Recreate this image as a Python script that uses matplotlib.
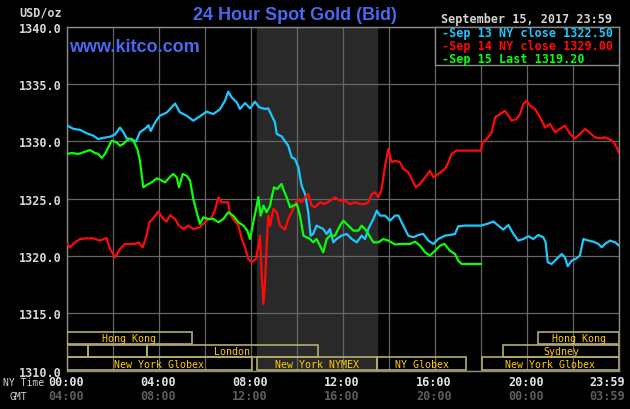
import matplotlib.pyplot as plt
from matplotlib.patches import Rectangle
import matplotlib.transforms as mtransforms

plt.rcParams['font.family'] = 'DejaVu Sans Mono'

# --- data (NY time in hours, price USD/oz) ---
sep13_h = [0.0, 0.29, 0.57, 0.86, 1.14, 1.36, 1.58, 1.87, 2.09, 2.30, 2.45, 2.59, 2.81, 3.0, 3.17, 3.39,
           3.54, 3.64, 3.83, 4.04, 4.33, 4.48, 4.70, 4.91, 5.2, 5.49, 5.78, 6.07, 6.36, 6.65, 6.87, 7.01,
           7.16, 7.38, 7.52, 7.74, 7.96, 8.17, 8.36, 8.61, 8.75, 8.9, 9.04, 9.12, 9.26, 9.33, 9.48, 9.62,
           9.77, 9.91, 10.06, 10.2, 10.35, 10.49, 10.59, 10.7, 10.85, 11.0, 11.14, 11.29, 11.43, 11.58,
           11.72, 11.94, 12.16, 12.38, 12.6, 12.81, 12.96, 13.1, 13.32, 13.47, 13.61, 13.83, 14.04, 14.26,
           14.41, 14.62, 14.84, 15.06, 15.27, 15.49, 15.71, 15.93, 16.14, 16.43, 16.65, 16.87, 17.01, 17.30,
           18.0, 18.25, 18.54, 18.75, 18.97, 19.19, 19.41, 19.62, 19.84, 20.06, 20.27, 20.49, 20.71, 20.81,
           20.9, 21.07, 21.29, 21.51, 21.65, 21.77, 21.94, 22.16, 22.3, 22.45, 22.67, 22.88, 23.1, 23.25,
           23.39, 23.61, 23.83, 24.0]
sep13_p = [1331.37, 1331.08, 1331.0, 1330.7, 1330.5, 1330.2, 1330.3, 1330.4, 1330.6, 1331.2, 1330.8,
           1330.26, 1330.2, 1329.97, 1330.8, 1331.1, 1331.4, 1330.9, 1331.66, 1332.24, 1332.5, 1332.82,
           1333.3, 1332.53, 1332.24, 1331.8, 1332.18, 1332.59, 1332.38, 1332.8, 1333.55, 1334.33, 1333.84,
           1333.4, 1332.82, 1333.34, 1332.88, 1333.46, 1332.97, 1332.82, 1332.88, 1332.24, 1331.66, 1330.64,
           1330.5, 1330.44, 1330.0, 1329.62, 1328.6, 1328.46, 1327.73, 1326.13, 1325.4, 1323.8, 1321.77,
           1321.92, 1322.65, 1322.5, 1322.35, 1321.92, 1322.35, 1321.19, 1321.48, 1321.77, 1321.92, 1321.48,
           1321.19, 1321.77, 1321.48, 1322.35, 1323.23, 1323.95, 1323.52, 1323.52, 1323.08, 1323.52, 1323.52,
           1322.65, 1321.77, 1321.63, 1321.83, 1321.92, 1321.34, 1321.05, 1321.48, 1321.77, 1321.83, 1321.92,
           1322.59, 1322.65, 1322.65, 1322.79, 1323.0, 1322.65, 1322.3, 1322.7, 1321.92, 1321.34, 1321.48,
           1321.72, 1321.48, 1321.83, 1321.63, 1321.19, 1319.45, 1319.3, 1319.74, 1320.17, 1319.88, 1319.1,
           1319.59, 1319.8, 1320.03, 1321.48, 1321.34, 1321.25, 1321.05, 1320.76, 1321.05, 1321.34, 1321.19,
           1320.9]

sep14_h = [0.0, 0.13, 0.35, 0.57, 0.86, 1.14, 1.43, 1.72, 1.87, 2.09, 2.3, 2.52, 2.74, 2.96, 3.1, 3.29,
           3.46, 3.58, 3.72, 3.97, 4.19, 4.33, 4.48, 4.7, 4.84, 5.06, 5.27, 5.49, 5.78, 6.07, 6.29, 6.43,
           6.58, 6.72, 6.87, 7.01, 7.09, 7.23, 7.45, 7.6, 7.74, 7.88, 8.03, 8.22, 8.32, 8.39, 8.46, 8.54,
           8.61, 8.68, 8.75, 8.83, 8.97, 9.12, 9.26, 9.48, 9.62, 9.77, 9.91, 10.06, 10.2, 10.35, 10.49,
           10.64, 10.78, 11.0, 11.22, 11.43, 11.65, 11.87, 12.09, 12.3, 12.52, 12.74, 12.96, 13.1, 13.25,
           13.39, 13.54, 13.68, 13.83, 13.97, 14.12, 14.26, 14.48, 14.62, 14.84, 14.99, 15.16, 15.35, 15.57,
           15.78, 15.93, 16.14, 16.43, 16.58, 16.72, 16.94, 18.0, 18.06, 18.25, 18.47, 18.61, 18.83, 19.04,
           19.19, 19.33, 19.55, 19.7, 19.84, 19.99, 20.13, 20.35, 20.57, 20.78, 21.0, 21.22, 21.43, 21.65,
           21.87, 22.09, 22.3, 22.52, 22.74, 22.96, 23.17, 23.39, 23.61, 23.75, 23.9, 24.0]
sep14_p = [1321.05, 1320.76, 1321.19, 1321.48, 1321.54, 1321.54, 1321.34, 1321.57, 1320.61, 1319.88,
           1320.61, 1321.05, 1321.05, 1321.05, 1321.19, 1320.76, 1321.77, 1322.94, 1323.23, 1323.87, 1323.23,
           1322.99, 1323.55, 1323.23, 1322.7, 1322.35, 1322.65, 1322.35, 1322.5, 1323.08, 1323.37, 1323.95,
           1325.12, 1324.68, 1324.68, 1324.68, 1323.66, 1323.23, 1322.65, 1321.48, 1320.76, 1319.74, 1319.45,
           1319.74, 1320.9, 1321.77, 1318.57, 1315.81, 1317.7, 1320.9, 1323.52, 1322.65, 1324.1, 1323.81,
           1322.65, 1322.3, 1323.23, 1323.81, 1324.53, 1324.97, 1324.68, 1325.12, 1325.41, 1324.39, 1324.24,
           1324.68, 1324.53, 1324.82, 1325.12, 1324.82, 1324.82, 1324.53, 1324.68, 1324.53, 1324.53, 1324.68,
           1325.41, 1325.55, 1325.12, 1325.84, 1327.88, 1329.33, 1328.17, 1328.31, 1328.17, 1327.59, 1327.3,
           1326.72, 1325.99, 1326.28, 1326.86, 1327.44, 1326.86, 1327.15, 1327.59, 1328.17, 1328.9, 1329.19,
           1329.19, 1329.91, 1330.2, 1330.78, 1332.09, 1332.38, 1332.67, 1332.24, 1331.8, 1331.95, 1332.38,
           1333.26, 1333.55, 1333.11, 1332.82, 1332.09, 1331.22, 1331.51, 1330.78, 1331.08, 1331.37, 1330.64,
           1330.26, 1330.64, 1331.08, 1330.73, 1330.35, 1330.26, 1330.35, 1330.15, 1329.97, 1329.48, 1328.98]

sep15_h = [0.0, 0.2, 0.49, 0.71, 1.0, 1.22, 1.36, 1.51, 1.65, 1.80, 1.94, 2.16, 2.3, 2.45, 2.59, 2.74,
           2.88, 3.06, 3.17, 3.25, 3.32, 3.46, 3.68, 3.9, 4.04, 4.26, 4.48, 4.62, 4.77, 4.87, 5.03, 5.2,
           5.35, 5.49, 5.64, 5.78, 5.93, 6.14, 6.36, 6.58, 6.8, 7.01, 7.23, 7.45, 7.67, 7.84, 7.96, 8.07,
           8.22, 8.32, 8.42, 8.54, 8.68, 8.83, 8.9, 9.0, 9.14, 9.26, 9.33, 9.4, 9.55, 9.7, 9.84, 9.99,
           10.13, 10.28, 10.42, 10.57, 10.7, 10.85, 11.0, 11.14, 11.29, 11.43, 11.65, 11.87, 12.01, 12.23,
           12.45, 12.67, 12.81, 12.96, 13.1, 13.32, 13.54, 13.75, 13.97, 14.26, 14.48, 14.7, 14.91, 15.13,
           15.35, 15.57, 15.78, 16.0, 16.22, 16.41, 16.65, 16.87, 17.01, 17.16, 18.0]
sep15_p = [1328.9, 1328.98, 1328.9, 1329.04, 1329.24, 1328.98, 1328.9, 1328.55, 1328.9, 1329.48, 1330.06,
           1329.91, 1329.62, 1329.77, 1330.06, 1330.2, 1330.06, 1329.33, 1328.31, 1327.0, 1325.99, 1326.19,
           1326.42, 1326.77, 1326.66, 1326.42, 1326.9, 1327.15, 1326.86, 1325.99, 1327.15, 1327.0, 1326.57,
           1324.97, 1323.81, 1322.79, 1323.37, 1323.23, 1323.23, 1322.94, 1323.23, 1323.81, 1323.52, 1322.94,
           1322.65, 1322.21, 1321.48, 1322.65, 1324.1, 1325.12, 1323.52, 1324.39, 1323.81, 1324.39, 1325.12,
           1325.99, 1325.84, 1326.13, 1326.28, 1325.84, 1325.12, 1324.24, 1324.39, 1324.53, 1323.52, 1321.77,
           1321.63, 1321.48, 1321.19, 1321.48, 1320.9, 1320.32, 1321.48, 1321.77, 1321.77, 1322.65, 1323.08,
           1322.65, 1322.21, 1322.21, 1322.65, 1322.35, 1321.92, 1321.19, 1321.19, 1321.48, 1321.34, 1321.0,
           1321.05, 1321.05, 1321.05, 1321.25, 1320.9, 1320.32, 1320.03, 1320.46, 1320.9, 1321.05, 1320.46,
           1320.17, 1319.59, 1319.3, 1319.3]

legend_labels = ['Sep 13 NY close 1322.50', 'Sep 14 NY close 1329.00', 'Sep 15 Last 1319.20']
colors = ['#1ec8ff', '#ff0a0a', '#0aff0a']

# trading sessions: name, start hour, end hour, row (0 = top)
sess_names = ['Hong Kong', '', '', 'London', 'New York Globex', 'New York NYMEX', 'NY Globex',
              'Hong Kong', 'Sydney', 'New York Globex']
sess_start = [0.0, 0.0, 0.91, 3.48, 0.0, 8.26, 13.48, 20.48, 18.96, 18.04]
sess_end = [5.43, 0.91, 3.48, 10.91, 8.04, 13.48, 17.35, 24.0, 24.0, 24.0]
sess_row = [0, 1, 1, 1, 2, 2, 2, 0, 1, 2]

tick_hours = [0, 4, 8, 12, 16, 20, 24]
ny_labels = ['00:00', '04:00', '08:00', '12:00', '16:00', '20:00', '23:59']
gmt_labels = ['04:00', '08:00', '12:00', '16:00', '20:00', '00:00', '03:59']
y_ticks = [1310, 1315, 1320, 1325, 1330, 1335, 1340]

fig = plt.figure(figsize=(6.3, 4.1), dpi=100, facecolor='black')
ax = fig.add_axes([67 / 630, 1 - 371.6 / 410, 552 / 630, 343.9 / 410])
ax.set_facecolor('black')
ax.set_xlim(0, 24)
ax.set_ylim(1310, 1340)

# grid
ax.set_xticks(range(0, 25, 2))
ax.set_xticklabels([])
ax.set_yticks(y_ticks)
ax.set_yticklabels([f'{v:.1f}' for v in y_ticks], color='#d8d8d8', fontsize=8.5, fontweight='bold')
ax.tick_params(length=0, pad=3.6)
ax.grid(color='#666666', lw=0.9, zorder=1)
ax.set_axisbelow(True)
for s in ax.spines.values():
    s.set_color('#8a8a8a')
    s.set_linewidth(1.0)

# NYMEX shaded period
i = sess_names.index('New York NYMEX')
ax.axvspan(sess_start[i], sess_end[i], color='#292929', zorder=0)

# session boxes
row_h = 1.1
row_base = [1312.3, 1311.17, 1310.05]
for name, a, b, r in zip(sess_names, sess_start, sess_end, sess_row):
    ax.add_patch(Rectangle((a, row_base[r]), b - a, row_h, fill=False, ec='#b4ac6c', lw=1.2, zorder=3))
    if name:
        ax.text((a + b) / 2, row_base[r] + row_h / 2, name, color='#ffcc00', fontsize=7.2,
                ha='center', va='center', zorder=4)

# price lines
for h, p, c in zip([sep13_h, sep14_h, sep15_h], [sep13_p, sep14_p, sep15_p], colors):
    ax.plot(h, p, color=c, lw=1.6, zorder=5)

# legend box
ax.add_patch(Rectangle((0.6667, 0.8886), 0.3333, 0.1114, transform=ax.transAxes,
                       facecolor='black', edgecolor='#8a8a8a', lw=1.0, zorder=6, clip_on=False))
for k, (lab, c) in enumerate(zip(legend_labels, colors)):
    ax.text(0.679, 0.9817 - k * 0.0364, '-' + lab, color=c, fontsize=8.5, fontweight='bold',
            transform=ax.transAxes, va='center', ha='left', zorder=7)

# titles
fig.text(295 / 630, 1 - 15 / 410, '24 Hour Spot Gold (Bid)', family='Liberation Sans',
         fontweight='bold', fontsize=13, color='#4a68f0', ha='center', va='center')
fig.text(69 / 630, 1 - 48 / 410, 'www.kitco.com', family='Liberation Sans',
         fontweight='bold', fontsize=13, color='#4a68f0', ha='left', va='center')
fig.text(441 / 630, 1 - 19 / 410, 'September 15, 2017 23:59', color='#d4d4d4',
         fontsize=8.5, fontweight='bold', ha='left', va='center')
fig.text(62 / 630, 1 - 13 / 410, 'USD/oz', color='#d4d4d4', fontsize=8.5, fontweight='bold',
         ha='right', va='center')

# time axis labels
fig.text(3 / 630, 1 - 383 / 410, 'NY Time', color='#d4d4d4', fontsize=7, ha='left', va='center')
fig.text(27 / 630, 1 - 397 / 410, 'GMT', color='#d4d4d4', fontsize=7, ha='right', va='center')
trans = mtransforms.blended_transform_factory(ax.transData, fig.transFigure)
for hx, a, b in zip(tick_hours, ny_labels, gmt_labels):
    ha = 'right' if hx == 24 else 'center'
    off = 6 if hx == 24 else -1
    tr = mtransforms.offset_copy(trans, fig=fig, x=off, y=0, units='dots')
    ax.text(hx, 1 - 383 / 410, a, color='#e4e4e4', fontsize=8.5, fontweight='bold',
            ha=ha, va='center', transform=tr)
    ax.text(hx, 1 - 397 / 410, b, color='#5e5e5e', fontsize=8.5, fontweight='bold',
            ha=ha, va='center', transform=tr)

fig.savefig('out.png', dpi=100, facecolor='black')
